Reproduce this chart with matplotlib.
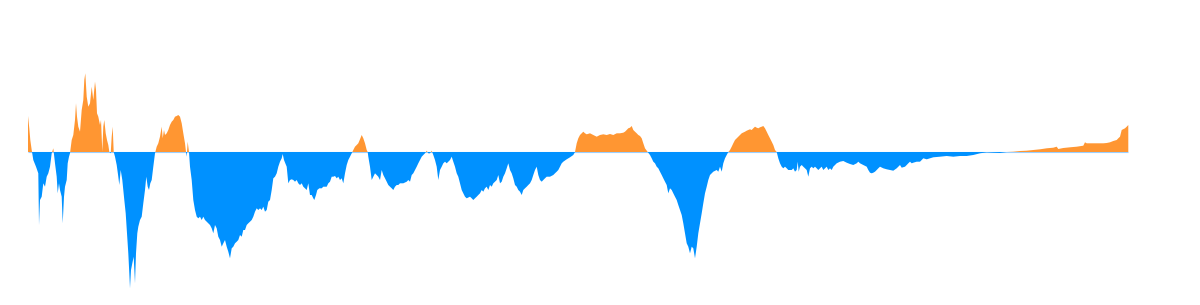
import numpy as np
import matplotlib
matplotlib.use('Agg')
import matplotlib.pyplot as plt

# day index and value
day = [0, 1.3, 2.3, 3.7, 5.3, 8, 10.3, 11, 12, 13.7, 15.3, 17, 18.7, 20.3, 22, 23.7, 25.3,
       27, 28.7, 29.7, 31, 32, 33.7, 34.7, 36, 37, 38.7, 39.7, 41, 42, 43.7, 45.3, 47, 48,
       49, 50.3, 52, 53.7, 55.3, 56.3, 57.3, 58.7, 60.3, 62, 63.7, 65.3, 67, 68, 69, 70.3,
       72, 73, 74.3, 75.3, 76.3, 77.7, 79, 80.3, 81.3, 82.7, 83.7, 84.7, 85.7,
       87, 88.7, 90.3, 91.3, 92.7, 94.3, 96.3, 97.7, 99, 100.3, 101.3, 102, 103, 104.3,
       105.7, 107, 108, 109.3, 110.3, 112, 113.7, 115.3, 117, 118.3, 119.7, 121, 122.3,
       123.7, 125.3, 127, 128.7, 130.3, 132, 133.7, 134.7, 136, 137, 138.7, 140.3, 142,
       143.7, 145.3, 147, 148.7, 150.3, 152, 153.7, 155.3, 157, 158, 158.7, 159.7, 161,
       162, 163.7, 165.3, 167, 168.7, 170.3, 172, 173.7, 175.3, 177, 178.7, 180.3, 182,
       183.7, 185.3, 187, 188.7, 190.3, 192, 193.7, 195.3, 197, 198.7, 200.3, 202, 203.7,
       205.3, 207, 208.7, 210.3, 212, 213.7, 215.3, 217, 218.7, 220.3, 222, 223.7, 225.3,
       227, 228.7, 230.3, 232, 233.7, 235.3, 237, 238.7, 240.3, 242, 243.7, 245.3, 247,
       248.7, 250.3, 252, 253.7, 254.7, 256, 257.3, 258.7, 260.3, 262, 263.7, 265.3, 267,
       268.7, 270.3, 272, 273.7, 275.3, 277, 278.7, 280.3, 282, 283.7, 285.3, 286.3, 288,
       289.3, 291.3, 293.7, 295.3, 298.7, 300.3, 302, 303.7, 305.3, 307, 308.7, 310.3, 312,
       313.7, 315.3, 317, 318.7, 320.3, 322, 323.7,
       325.3, 327, 328.7, 330.3, 332, 333.7, 335.3, 337, 338.7, 339.7, 340.3, 342, 343.7,
       345.3, 347, 348.7, 350.3, 352, 353.7, 355.3, 357, 358.7, 360.3, 362, 363.7, 365.3,
       367, 368.7, 370.3, 372, 375.3, 378.7, 380.3, 382, 383.7, 385.3, 387, 388.7, 390.3,
       392, 393.7, 395.3, 397, 398.7, 400.3, 402, 403.7, 405.3, 407, 408.7, 410.3, 412,
       413.7, 415.3, 417, 418.7, 420.3, 422, 423.7, 425.3, 427, 428.7, 430.3, 432, 433.7,
       435.3, 437, 438.7, 442, 443.7, 445.3, 447, 448.7, 450.3, 452, 453.7, 455.3, 457,
       458.7, 460.3, 462, 463.7, 465.3, 467, 468.7, 470.3, 472, 473.7, 475.3, 477, 478.7,
       480.3, 482, 483.7, 485.3, 487, 488.7, 490.3, 492, 493.7, 495.3, 497, 498.7, 500.3,
       502, 503.7, 505.3, 507, 508.7, 510.3, 512, 513.7, 515.3, 517, 518.7, 522, 525.3,
       527, 528.7, 530.3, 532, 533.7, 535.3, 538.7, 542, 545.3, 547,
       548.7, 550.3, 552, 553.7, 555.3, 557, 558.7, 562, 565.3, 568.7, 572, 575.3, 578.7,
       582, 585.3, 588.7, 592, 595.3, 597, 598.7, 600.3, 602, 603.7, 605.3, 607, 608.7,
       610.3, 612, 613.7, 615.3, 617, 619.7, 622, 623.7, 625.3, 627, 628.7, 630.3, 632,
       633.7, 635.3, 637, 638.7, 640.3, 642, 643.7, 645.3, 647, 648.7, 650.3, 652, 653.7,
       655.3, 657, 658.7, 660.3, 662, 663.7, 665.3, 667, 668.7, 670.3, 672, 673.7, 675.3,
       677, 678.7, 680.3, 682, 683.7, 685.3, 688.7, 690.3, 692, 693.7, 695.3, 697, 698.7,
       700.3, 702, 703.7, 705.3, 707, 708.7, 710.3, 712, 713.7, 717, 718.7, 720.3, 722,
       723.7, 725.3, 727, 728.7, 730.3, 732, 733.7, 735.3, 737, 738.7, 740.3, 742, 743.7,
       745.3, 747, 748.7, 750.3, 752, 753.7, 755.3, 757, 758.7, 760.3, 763.7, 765.3, 767,
       768.7, 769.7, 770.7, 772, 773.7, 775.3, 777, 778.7, 780.3, 782, 783.7, 785.3, 787,
       788.7, 790.3, 792, 793.7, 795.3, 797, 798.7, 800.3, 802, 803.7, 805.3, 807, 808.7,
       812, 815.3, 818.7, 822, 825.3, 828.7, 830.3, 832, 835.3, 838.7, 840.3, 842, 843.7,
       845.3, 847, 848.7, 850.3, 852, 855.3, 858.7, 862, 865.3, 868.7, 870.3, 872, 873.7,
       877, 878.7, 880.3, 882, 883.7, 885.3, 888.7, 892, 893.7, 895.3, 898.7, 902, 905.3,
       912, 918.7, 925.3, 932, 938.7, 945.3, 952, 958.7, 965.3, 972, 978.7, 985.3, 992,
       998.7, 1005.3, 1012, 1018.7, 1025.3, 1028.7, 1030.3, 1035.3, 1042, 1048.7, 1055.3,
       1057, 1058.7, 1065.3, 1075.3, 1078.7, 1082, 1085.3, 1088.7, 1090.3, 1092, 1093.7,
       1097, 1098.7, 1100.3]

spread = [36, 23.7, 12, 2, -8, -14.7, -21.3, -73, -48, -44.7, -31.3, -34.7, -24.7, -21.3, -14.7,
          -1.3, 3.7, -11.3, -24.7, -41.3, -31.3, -38, -44.7, -71.3, -44.7, -34.7, -28, -11.3,
          -4.7, -1.3, 12, 17, 32, 48.7, 35.3, 25.3, 20.3, 42, 52, 72, 78.7, 55.3, 45.3, 48.7,
          65.3, 52, 70.3, 62, 38.7, 35.3, 27, 32, 0.3, 25.3, 32, 18.7, 12, 7, 0.3, -1.3, 15.3,
          25.3, 0,
          -4.7, -13, -24.7, -33, -18, -28, -48, -61.3, -81.3, -101.3, -121.3, -136.3, -118,
          -111.3, -104.7, -131.3, -101.3, -81.3, -74.7, -68, -64.7, -51.3, -38, -24.7, -34.7,
          -38, -31.3, -28, -14.7, -1.3, 5.3, 8.7, 15.3, 25.3, 13.7, 22, 17, 18.7, 22, 27,
          30.3, 32, 35.3, 36, 37, 35.3, 28.7, 18.7, 8.7, 0, -4.7, 10.3, 0,
          -14.7, -28, -48, -58, -64.7, -66.3, -64.7, -68, -64.7, -68, -69.7, -71.3, -73,
          -76.3, -81.3, -73, -76.3, -84.7, -88, -94.7, -91.3, -88, -94.7, -99.7, -106.3,
          -96.3, -94.7, -91.3, -89.7, -88, -83, -84.7, -78, -78, -73, -71.3, -69.7, -68,
          -64.7, -59.7, -56.3, -58, -56.3, -58, -54.7, -59.7, -58, -49.7, -48, -38, -26.3,
          -24.7, -21.3, -14.7, -9.7, -6.3, -2, -8, -11.3, -14.7, -31.3, -28, -27.3, -28,
          -29.7, -28, -31.3, -33, -31.3, -34.7, -36.3, -38, -31.3, -43, -43, -46.3, -48, -43,
          -38, -36.3, -36.3, -34.7, -34.7, -31.3, -29.7, -24.7, -24.7, -24, -26.3, -24.7, -28,
          -26.3, -31.3, -21.3, -13, -8, -4.7, -1.3,
          2, 5.3, 7, 8.7, 12.7, 17, 13.7, 8.7, 2, 0, -4.7, -14.7, -28, -24.7, -21.3, -23,
          -24.7, -28, -18, -23, -26.3, -29.7, -33, -34.7, -36.3, -38, -34.7, -33, -33, -31.3,
          -31.3, -29.7, -28, -29.7, -23, -21.3, -18, -14.7, -11.3, -8, -4.7, -3, -1.3, 1.3,
          -1.3, -1.3, 1.3, -3, -8, -14.7, -28, -18, -14.7, -11.3, -9.7, -11.3, -9.7, -8, -4.7,
          -9.7, -14.7, -21.3, -24.7, -31.3, -38, -41.3, -44.7, -46.3, -44.7, -46.3, -48,
          -46.3, -44.7, -43, -41.3, -38, -39.7, -36.3, -34.7, -38, -33, -34.7, -31.3, -29.7,
          -28, -23, -31.3, -29.7, -24.7, -21.3, -16.3, -11.3, -18, -21.3, -26.3, -33, -34.7,
          -38, -39.7, -43, -38, -36.3, -34.7, -33, -31.3, -28, -23, -18, -14.7, -23, -28,
          -29.7, -28, -26.3, -24.7, -24.7, -23, -21.3, -19.7, -18, -14.7, -11.3, -9.7, -7.3,
          -5.3, -3, 0,
          8.7, 13.7, 17, 18.7, 20.3, 18.7, 17.7, 18.7, 17, 15.3, 17, 17.7, 17, 18, 17, 18.7,
          18.7, 19.3, 20.3, 22, 23.7, 24.3, 26, 22, 20.3, 18.7, 17, 16, 13.7, 8.7, 3.7, 0,
          -3, -6.3, -9.7, -11.3, -14.7, -16.3, -19.7, -23, -26.3, -29.7, -33, -41.3, -36.3,
          -38, -41.3, -44.7, -48, -53, -58, -63, -71.3, -81.3, -91.3, -94.7, -101.3, -94.7,
          -96.3, -106.3, -94.7, -81.3, -71.3, -61.3, -51.3, -41.3, -34.7, -28, -23, -21.3,
          -19.7, -18, -19.7, -14.7, -19.7, -11.3, -6.3, -3, 0,
          2, 5.3, 8.7, 12, 13.7, 15.3, 17, 18.7, 20.3, 21.3, 22, 22.7, 22, 23.7, 25.3, 24.3,
          23.7, 24.7, 25.3, 26, 23.7, 20.3, 17, 13.7, 10.3, 7, 2, 0,
          -6.3, -11.3, -14.7, -16.3, -14.7, -16.3, -18, -18, -16.3, -19.7, -18, -9.7, -19.7,
          -14.7, -13, -14.7, -16.3, -18, -24.7, -16.3, -14.7, -16.3, -14.7, -16.3, -18, -16.3,
          -14.7, -18, -16.3, -14.7, -18, -16.3, -18, -14.7, -13, -11.3,
          -9.7, -9, -10.7, -12, -13, -11.3, -9.7, -11.3, -13, -14.7, -18, -20.7, -21.3,
          -20.7, -19.7, -18, -16.3, -14.7, -16.3, -17.3, -18, -18.7, -16.3, -14.7, -13, -15.7,
          -14.7, -13, -11.3, -9.7, -11.3, -10.7, -9.7, -9.7, -8, -6.3, -7.3, -6.3, -5.3,
          -4.7, -4, -4.7, -4, -4, -3, -1.3, -0.3, -0.7, -1, 0, 0.3, 1,
          1.3, 2, 2.7, 3.7, 4.3, 5.3, 3, 4, 4.7, 5.3, 6.3,
          9.7, 8.7, 8.7, 8.7, 9, 9.7, 11, 12, 13.7, 15.3, 22,
          23.7, 25.3, 27]

x = np.array(day)
y = np.array(spread)

fig = plt.figure(figsize=(12, 3.05), dpi=100)
ax = fig.add_axes([0, 0, 1, 1])

ax.fill_between(x, y, 0, where=y >= 0, interpolate=True, color='#FF9632', linewidth=0)
ax.fill_between(x, y, 0, where=y <= 0, interpolate=True, color='#0091FF', linewidth=0)
# thin zero line, only across the data range
ax.hlines(0, x.min(), x.max(), color='#9ACFFF', linewidth=0.8, zorder=0)

ax.set_xlim(-28, 1172)
ax.set_ylim(-153, 152)
ax.axis('off')

fig.savefig('out.png', dpi=100, facecolor='white')
